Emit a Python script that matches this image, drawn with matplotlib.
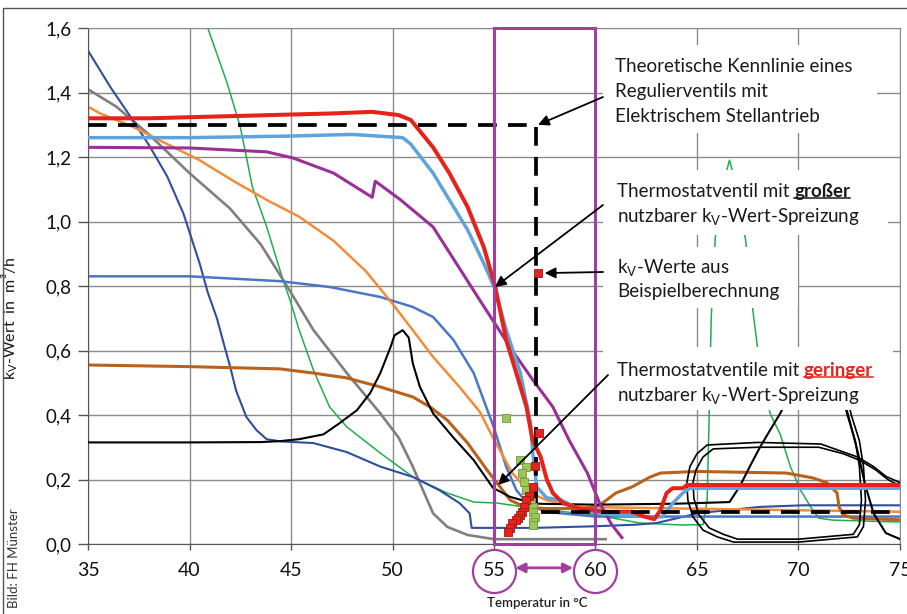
import matplotlib
matplotlib.use("Agg")
import matplotlib.pyplot as plt
from matplotlib.patches import Rectangle
from matplotlib.lines import Line2D

plt.rcParams['font.family'] = ['Lato', 'DejaVu Sans']
plt.rcParams['mathtext.fontset'] = 'custom'
plt.rcParams['mathtext.rm'] = 'Lato'
plt.rcParams['mathtext.it'] = 'Lato:italic'
plt.rcParams['mathtext.bf'] = 'Lato:bold'

# ---------------- data ----------------
x_ticks = [35, 40, 45, 50, 55, 60, 65, 70, 75]
y_ticks = [0.0, 0.2, 0.4, 0.6, 0.8, 1.0, 1.2, 1.4, 1.6]
y_tick_labels = ["0,0", "0,2", "0,4", "0,6", "0,8", "1,0", "1,2", "1,4", "1,6"]

red_T = [35, 38, 41, 44, 47, 49, 50.3, 50.9, 52.0, 52.8, 53.7, 54.5, 55.05, 55.6, 56.1, 56.6, 56.9, 57.3,
         57.6, 57.9, 58.4, 59.2, 60.5, 61.8, 62.4, 62.9, 63.2, 63.5, 63.8, 64.3, 64.5, 75]
red_V = [1.32, 1.32, 1.325, 1.33, 1.335, 1.34, 1.33, 1.315, 1.23, 1.15, 1.045, 0.92, 0.80, 0.633, 0.53, 0.425,
         0.322, 0.27, 0.20, 0.158, 0.127, 0.11, 0.10, 0.10, 0.085, 0.077, 0.105, 0.158, 0.173, 0.173, 0.183, 0.183]

lblue_T = [35, 40, 45, 48, 50.5, 50.9, 52.0, 52.8, 53.7, 54.5, 55.05, 55.6, 56.3, 56.8, 56.9, 57.1, 57.6, 58.3,
           59.5, 61, 62.5, 63.3, 63.8, 64.3, 64.65, 75]
lblue_V = [1.26, 1.26, 1.265, 1.27, 1.26, 1.24, 1.15, 1.067, 0.974, 0.87, 0.79, 0.664, 0.53, 0.375, 0.29, 0.177,
           0.143, 0.136, 0.10, 0.09, 0.085, 0.084, 0.126, 0.158, 0.173, 0.173]

purple_T = [35, 40, 43.8, 45.1, 47.1, 49.0, 49.15, 50.4, 52.0, 54.2, 55.9, 56.9, 57.9, 58.7, 59.6, 60.2, 60.8, 61.3]
purple_V = [1.23, 1.228, 1.216, 1.197, 1.15, 1.075, 1.125, 1.067, 0.983, 0.766, 0.60, 0.51, 0.425, 0.322, 0.22,
            0.127, 0.06, 0.02]

orange_T = [35, 35.6, 37.2, 38.9, 40.5, 42.1, 43.8, 45.4, 47.1, 48.7, 50.0, 51.0, 52.0, 53.3, 54.3, 54.95, 55.9,
            56.8, 57.6, 59, 75]
orange_V = [1.356, 1.335, 1.294, 1.24, 1.19, 1.128, 1.067, 1.015, 0.94, 0.845, 0.745, 0.663, 0.58, 0.487, 0.41,
            0.33, 0.22, 0.158, 0.136, 0.115, 0.10]

gray_T = [35, 36.4, 38, 40, 42, 43.5, 44.8, 46.1, 47.75, 49.4, 50.3, 51.0, 51.5, 52.0, 52.7, 53.7, 55, 60.5]
gray_V = [1.41, 1.356, 1.27, 1.15, 1.04, 0.93, 0.80, 0.664, 0.53, 0.405, 0.33, 0.24, 0.167, 0.095, 0.053, 0.028,
          0.015, 0.015]

navy_T = [35, 36.1, 37.2, 38.05, 38.9, 39.7, 40.5, 40.9, 41.35, 41.65, 42.0, 42.3, 42.8, 43.3, 43.8, 44.5, 46.1,
          47.75, 49.4, 51.0, 52.3, 53.3, 53.8, 53.9, 55.1, 57, 60, 62, 63.0, 65.1, 68.1, 70.2, 75]
navy_V = [1.53, 1.417, 1.315, 1.232, 1.14, 1.025, 0.87, 0.78, 0.70, 0.63, 0.55, 0.475, 0.394, 0.353, 0.325,
          0.318, 0.313, 0.285, 0.24, 0.208, 0.167, 0.127, 0.095, 0.05, 0.05, 0.05, 0.055, 0.06, 0.065, 0.096,
          0.115, 0.12, 0.12]

mblue_T = [35, 40, 44.46, 46.9, 49.4, 51.0, 52.0, 53.0, 54.0, 55.0, 55.6, 56.1, 56.6, 57.5, 60, 65, 70, 75]
mblue_V = [0.83, 0.83, 0.815, 0.797, 0.766, 0.735, 0.704, 0.633, 0.53, 0.36, 0.24, 0.167, 0.13, 0.10, 0.085,
           0.085, 0.085, 0.085]

brown_T = [35, 40, 44.46, 46.1, 47.75, 49.4, 51.0, 51.85, 52.7, 53.7, 54.65, 55.8, 56.5, 57.5, 59.5, 60.2, 61.0,
           61.8, 62.7, 63.2, 65, 69.4, 70.7, 71.4, 71.9, 72.0, 72.2, 72.7, 75]
brown_V = [0.555, 0.55, 0.543, 0.53, 0.515, 0.487, 0.456, 0.425, 0.384, 0.313, 0.23, 0.136, 0.115, 0.11, 0.11,
           0.12, 0.158, 0.177, 0.208, 0.22, 0.225, 0.22, 0.205, 0.19, 0.158, 0.115, 0.09, 0.08, 0.075]

black_T = [35, 40, 43.5, 44.46, 45.4, 46.6, 47.4, 48.25, 48.9, 49.4, 49.9, 50.1, 50.5, 50.8, 51.0, 51.35, 52.0,
           53.0, 54.0, 54.95, 55.8, 57, 60, 64, 66.6, 67.1, 67.6, 68.1, 68.6, 69.1, 70.0, 70.8, 71.8, 72.4, 72.9,
           73.3, 73.7, 74.3, 74.9, 75]
black_V = [0.315, 0.315, 0.316, 0.319, 0.325, 0.34, 0.375, 0.415, 0.468, 0.53, 0.61, 0.647, 0.663, 0.64, 0.56,
           0.487, 0.405, 0.33, 0.26, 0.174, 0.146, 0.125, 0.122, 0.125, 0.13, 0.178, 0.24, 0.30, 0.353, 0.405,
           0.52, 0.56, 0.52, 0.41, 0.29, 0.18, 0.095, 0.034, 0.018, 0.015]

loopA_T = [75, 74.3, 73.7, 72.9, 72.0, 71.1, 68, 65.5, 65.0, 64.65, 64.5, 64.55, 64.8, 65.3, 66.0, 66.8, 70,
           72.9, 73.2, 73.3, 73.2, 73.0, 72.6, 72.3]
loopA_V = [0.19, 0.21, 0.24, 0.27, 0.29, 0.31, 0.315, 0.307, 0.28, 0.24, 0.19, 0.136, 0.084, 0.043, 0.022, 0.006,
           0.006, 0.022, 0.054, 0.136, 0.24, 0.32, 0.40, 0.48]
loopB_T = [75, 74.4, 73.8, 73.0, 72.2, 71.0, 68, 65.8, 65.3, 64.95, 64.8, 64.85, 65.1, 65.6, 66.3, 67.0, 70,
           72.7, 73.0, 73.1, 73.0, 72.8, 72.4, 72.1]
loopB_V = [0.18, 0.20, 0.23, 0.26, 0.28, 0.30, 0.30, 0.295, 0.27, 0.23, 0.19, 0.14, 0.09, 0.05, 0.03, 0.015,
           0.015, 0.03, 0.06, 0.136, 0.24, 0.32, 0.40, 0.48]

green_T = [40.9, 41.85, 42.5, 43.1, 43.8, 44.6, 44.95, 45.4, 46.1, 46.9, 47.75, 49.4, 51.0, 52.7, 54.0, 55.15,
           57, 60, 62.2, 64.2, 65.3, 65.5, 65.6, 65.7, 65.9, 66.3, 66.6, 66.9, 67.4, 67.75, 68.0, 68.6, 69.1,
           69.6, 70.1, 70.6, 71.0, 71.7, 75]
green_V = [1.6, 1.43, 1.294, 1.107, 0.984, 0.82, 0.757, 0.664, 0.54, 0.425, 0.363, 0.282, 0.208, 0.158, 0.13,
           0.127, 0.11, 0.09, 0.065, 0.059, 0.06, 0.136, 0.40, 0.70, 0.95, 1.12, 1.19, 1.12, 0.94, 0.725, 0.60,
           0.405, 0.34, 0.24, 0.167, 0.115, 0.08, 0.074, 0.068]

theo_T = [35, 57.05, 57.05, 75]
theo_V = [1.30, 1.30, 0.10, 0.10]

calc_red_T = [57.17, 57.2, 57.0, 56.9, 56.7, 56.6, 56.5, 56.4, 56.3, 56.2, 56.1, 55.9, 55.8, 55.7]
calc_red_V = [0.84, 0.344, 0.242, 0.177, 0.15, 0.136, 0.115, 0.10, 0.09, 0.082, 0.075, 0.065, 0.05, 0.038]
calc_green_T = [55.6, 56.3, 56.6, 56.4, 56.5, 56.6, 56.7, 56.8, 56.9, 56.9, 57.0, 56.9, 56.9]
calc_green_V = [0.39, 0.26, 0.24, 0.22, 0.192, 0.167, 0.146, 0.13, 0.115, 0.099, 0.084, 0.068, 0.059]

range_T = [55, 60]

# ---------------- figure ----------------
W, H = 907, 614
fig = plt.figure(figsize=(W / 100, H / 100), dpi=100)
ax = fig.add_axes([88 / W, 1 - 544 / H, (900 - 88) / W, (544 - 28) / H])


def F(px, py):
    return (px / W, 1 - py / H)


ax.set_xlim(35, 75)
ax.set_ylim(0, 1.6)
ax.set_xticks(x_ticks)
ax.set_yticks(y_ticks)
ax.set_yticklabels(y_tick_labels)
ax.grid(True, color='#8a8a8a', lw=1.0)
ax.set_axisbelow(True)
ax.tick_params(axis='y', length=7, width=1, color='#555555', pad=5, labelsize=13.5, labelcolor='#111111')
ax.tick_params(axis='x', length=4, width=1, color='#555555', pad=9, labelsize=14, labelcolor='#111111')
for s in ['top', 'right']:
    ax.spines[s].set_color('#8a8a8a')
for s in ['left', 'bottom']:
    ax.spines[s].set_color('#555555')

C_RED = '#e5231b'
C_LBLUE = '#5fa3dc'
C_PURPLE = '#9a2f98'
C_ORANGE = '#f28b3a'
C_GRAY = '#7f7f7f'
C_NAVY = '#2d4f9e'
C_MBLUE = '#4a76c6'
C_BROWN = '#b8621c'
C_GREEN = '#1fae4b'
C_RECT = '#a23ea0'

ax.plot(green_T, green_V, color=C_GREEN, lw=1.1, zorder=2)
ax.plot(gray_T, gray_V, color=C_GRAY, lw=1.9, zorder=2.1)
ax.plot(navy_T, navy_V, color=C_NAVY, lw=1.5, zorder=2.2)
ax.plot(mblue_T, mblue_V, color=C_MBLUE, lw=1.8, zorder=2.3)
ax.plot(orange_T, orange_V, color=C_ORANGE, lw=1.8, zorder=2.4)
ax.plot(brown_T, brown_V, color=C_BROWN, lw=2.2, zorder=2.5)
ax.plot(black_T, black_V, color='black', lw=1.5, zorder=2.6)
ax.plot(loopA_T, loopA_V, color='black', lw=1.2, zorder=2.6)
ax.plot(loopB_T, loopB_V, color='black', lw=1.2, zorder=2.6)
ax.plot(purple_T, purple_V, color=C_PURPLE, lw=2.2, zorder=2.7)
ax.plot(lblue_T, lblue_V, color=C_LBLUE, lw=2.5, zorder=2.8)
ax.plot(red_T, red_V, color=C_RED, lw=2.9, zorder=2.9)
ax.plot(theo_T, theo_V, color='black', lw=2.7, dashes=(5, 3), zorder=3)
ax.plot(calc_green_T, calc_green_V, ls='none', marker='s', ms=5.5, mfc='#9cc65a', mec='#6f9a3c', mew=0.6, zorder=4)
ax.plot(calc_red_T, calc_red_V, ls='none', marker='s', ms=5.5, mfc='#e0261c', mec='#a51410', mew=0.6, zorder=4.1)

# purple range box
ax.add_patch(Rectangle((range_T[0], 0), range_T[1] - range_T[0], 1.6, fill=False, edgecolor=C_RECT,
                       lw=2.2, zorder=5, clip_on=False))
# circles around tick labels 55 / 60
ax.plot(range_T, [-0.084, -0.084], ls='none', marker='o', ms=31, mfc='none', mec=C_RECT, mew=1.6,
        clip_on=False, zorder=5)
ax.annotate('', xy=(58.9, -0.074), xytext=(56.05, -0.074), xycoords='data',
            arrowprops=dict(arrowstyle='<|-|>', color=C_RECT, lw=2, mutation_scale=14, shrinkA=0, shrinkB=0),
            annotation_clip=False)

# white text boxes
for (x0, y0, x1, y1) in [(603, 45, 877, 133), (603, 170, 888, 235), (603, 247, 798, 308), (603, 347, 893, 410)]:
    p0 = F(x0, y1)
    ax.add_patch(Rectangle(p0, (x1 - x0) / W, (y1 - y0) / H, transform=fig.transFigure, facecolor='white',
                           edgecolor='none', zorder=10, clip_on=False))

FS = 13.5
kw = dict(transform=fig.transFigure, va='baseline', ha='left', fontsize=FS, color='#1a1a1a', zorder=11)
ax.text(*F(615, 72), "Theoretische Kennlinie eines", **kw)
ax.text(*F(615, 97), "Regulierventils mit", **kw)
ax.text(*F(615, 122), "Elektrischem Stellantrieb", **kw)

t2a = ax.text(*F(617, 197), "Thermostatventil mit ", **kw)
t2b = ax.annotate("großer", xy=(1, 0), xycoords=t2a, va='bottom', ha='left', fontsize=FS,
                  fontweight='bold', color='#1a1a1a', zorder=11)
ax.text(*F(617, 222), r"nutzbarer k$_\mathregular{V}$-Wert-Spreizung", **kw)

ax.text(*F(617, 273), r"k$_\mathregular{V}$-Werte aus", **kw)
ax.text(*F(617, 297), "Beispielberechnung", **kw)

t4a = ax.text(*F(617, 376), "Thermostatventile mit ", **kw)
t4b = ax.annotate("geringer", xy=(1, 0), xycoords=t4a, va='bottom', ha='left', fontsize=FS,
                  fontweight='bold', color=C_RED, zorder=11)
ax.text(*F(617, 401), r"nutzbarer k$_\mathregular{V}$-Wert-Spreizung", **kw)

# arrows
akw = dict(arrowstyle='-|>', color='black', lw=1.3, mutation_scale=16, shrinkA=0, shrinkB=0)
for tail, head in [((603, 97), (57.17, 1.30)), ((603, 205), (55.05, 0.797)),
                   ((603, 272), (57.5, 0.84)), ((608, 375), (55.2, 0.183))]:
    ax.annotate('', xy=head, xycoords='data', xytext=F(*tail), textcoords='figure fraction',
                arrowprops=akw, zorder=12, annotation_clip=False)

# labels
ax.set_ylabel(r"k$_\mathregular{V}$-Wert  in  m³/h", fontsize=11.5, color='#1a1a1a')
ax.yaxis.set_label_coords(20 / W, 1 - 318 / H, transform=fig.transFigure)
fig.text(*F(537, 603), "Temperatur in °C", ha='center', va='center', fontsize=9.5, fontweight='semibold',
         color='#222222')
fig.text(*F(14, 558), "Bild: FH Münster", rotation=90, ha='center', va='center', fontsize=9.5, color='#333333')

# outer frame (top + left)
fig.add_artist(Line2D([3 / W, 3 / W, 1], [0, 1 - 8 / H, 1 - 8 / H], transform=fig.transFigure,
                      color='#555555', lw=1))

# underlines for emphasised words
fig.canvas.draw()
r = fig.canvas.get_renderer()
for t, col in [(t2b, '#1a1a1a'), (t4b, C_RED)]:
    bb = t.get_window_extent(r)
    yl = bb.y0 + 2.0
    fig.add_artist(Line2D([bb.x0 / W, bb.x1 / W], [yl / H, yl / H], transform=fig.transFigure,
                          color=col, lw=1.1, zorder=12))

fig.savefig("out.png", dpi=100)
